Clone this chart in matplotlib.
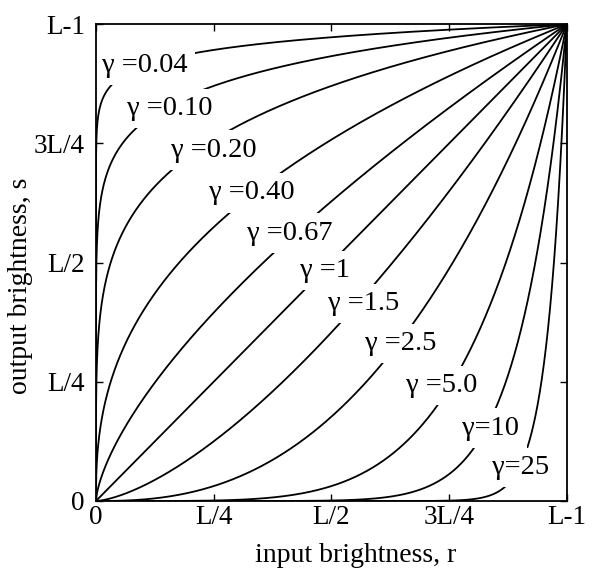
import numpy as np
import matplotlib
matplotlib.use("Agg")
import matplotlib.pyplot as plt

gammas = [0.04, 0.10, 0.20, 0.40, 0.67, 1, 1.5, 2.5, 5.0, 10, 25]
gamma_labels = ["\u03b3 =0.04", "\u03b3 =0.10", "\u03b3 =0.20", "\u03b3 =0.40", "\u03b3 =0.67",
                "\u03b3 =1", "\u03b3 =1.5", "\u03b3 =2.5", "\u03b3 =5.0", "\u03b3=10", "\u03b3=25"]
label_x = [0.104, 0.157, 0.251, 0.331, 0.412, 0.486, 0.569, 0.648, 0.735, 0.839, 0.902]
label_y = [0.914, 0.824, 0.736, 0.646, 0.562, 0.484, 0.415, 0.331, 0.243, 0.153, 0.071]
tick_labels = ["0", "L/4", "L/2", "3L/4", "L-1"]
tick_vals = [0, 0.25, 0.5, 0.75, 1.0]

plt.rcParams['font.family'] = ['Liberation Serif', 'DejaVu Serif']

fig = plt.figure(figsize=(5.96, 5.71), dpi=100)
ax = fig.add_axes([0.161, 0.1226, 0.790, 0.835])

r = np.linspace(0, 1, 3000)
for g in gammas:
    ax.plot(r, r ** g, color='black', lw=1.3, zorder=2)

for lab, lx, ly in zip(gamma_labels, label_x, label_y):
    ax.text(lx, ly, lab, fontsize=20.5, ha='center', va='center', zorder=2.2,
            bbox=dict(boxstyle='square,pad=0.25', fc='white', ec='none'))

ax.set_xlim(0, 1)
ax.set_ylim(0, 1)
ax.set_xticks(tick_vals)
ax.set_yticks(tick_vals)
ax.set_xticklabels(tick_labels)
ax.set_yticklabels(tick_labels)
ax.tick_params(direction='in', length=5, width=1, labelsize=19.5, top=True, right=True)
ax.tick_params(axis='y', pad=8)
ax.tick_params(axis='x', pad=3)
for s in ax.spines.values():
    s.set_linewidth(1.3)
    s.set_zorder(3)
ax.set_xlabel("input brightness, r", fontsize=20)
ax.set_ylabel("output brightness, s", fontsize=20)
ax.xaxis.set_label_coords(0.552, -0.115)
ax.xaxis.label.set_va('center')
ax.yaxis.set_label_coords(-0.16, 0.451)
ax.yaxis.label.set_va('center')

fig.savefig("out.png", dpi=100)
